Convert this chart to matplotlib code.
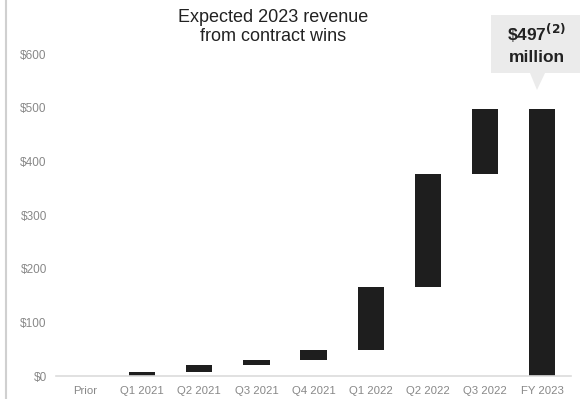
import numpy as np
import matplotlib.pyplot as plt
from matplotlib.patches import Polygon, Rectangle
from matplotlib.lines import Line2D

plt.rcParams["font.family"] = ["Liberation Sans", "DejaVu Sans"]

# ── data (US$ millions) ─────────────────────────────────────────
categories = ["Prior", "Q1 2021", "Q2 2021", "Q3 2021", "Q4 2021",
              "Q1 2022", "Q2 2022", "Q3 2022", "FY 2023"]
bar_bottom = [0, 0, 8, 20, 30, 48, 166, 377, 0]
bar_top = [0, 8, 20, 30, 48, 166, 377, 497, 497]
y_ticks = [0, 100, 200, 300, 400, 500, 600]

# ── figure ──────────────────────────────────────────────────────
fig = plt.figure(figsize=(5.8, 3.99), dpi=100)
ax = fig.add_axes([0.0974, 0.0576, 0.8866, 0.874])

x = np.arange(len(categories))
heights = np.array(bar_top) - np.array(bar_bottom)
ax.bar(x, heights, bottom=bar_bottom, width=0.46, color="#1e1e1e")

ax.set_xlim(-0.5, len(categories) - 0.5)
ax.set_ylim(0, 650)
ax.set_xticks(x)
ax.set_xticklabels(categories, fontsize=8.2, color="#888888")
ax.set_yticks(y_ticks)
ax.set_yticklabels([f"${v}" for v in y_ticks], fontsize=8.5, color="#888888")
ax.tick_params(length=0)
ax.tick_params(axis="y", pad=7)
ax.tick_params(axis="x", pad=7)
for s in ["top", "right", "left"]:
    ax.spines[s].set_visible(False)
ax.spines["bottom"].set_color("#dcdcdc")
ax.spines["bottom"].set_linewidth(1.2)

# thin gray frame line at the very left
fig.add_artist(Line2D([0.011, 0.011], [0, 1], transform=fig.transFigure,
                      color="#d0d0d0", linewidth=1.5))

# title
fig.text(0.471, 0.978, "Expected 2023 revenue\nfrom contract wins",
         ha="center", va="top", fontsize=13, color="#222222", linespacing=1.15)

# callout box with pointer
fig.add_artist(Rectangle((491 / 580, 1 - 73 / 399), 89 / 580, 58 / 399,
                         transform=fig.transFigure, color="#ebebeb", lw=0))
fig.add_artist(Polygon([[530 / 580, 1 - 73 / 399], [545 / 580, 1 - 73 / 399],
                        [537 / 580, 1 - 90 / 399]],
                       transform=fig.transFigure, color="#ebebeb", lw=0))
fig.text(537 / 580, 1 - 33 / 399, r"\$497$^{\mathbf{(2)}}$", ha="center", va="center",
         fontsize=12.5, fontweight="bold", color="#222222")
fig.text(537 / 580, 1 - 57 / 399, "million", ha="center", va="center",
         fontsize=12.5, fontweight="bold", color="#222222")

plt.savefig("out.png", dpi=100)
